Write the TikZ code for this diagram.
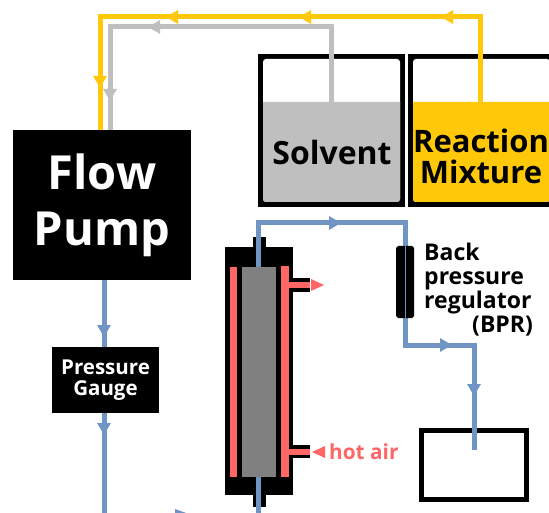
\documentclass[tikz,border=0pt]{standalone}
\usepackage{fontspec}
\setmainfont{Open Sans}
\usetikzlibrary{arrows.meta}
\definecolor{pipeblue}{HTML}{7094C4}
\definecolor{pipeyellow}{HTML}{FFC90A}
\definecolor{pipegray}{HTML}{BFBFBF}
\definecolor{hotred}{HTML}{FF6666}
\tikzset{
  pipe/.style={line width=5pt,line join=miter},
  tip/.style={line width=5pt,-{Triangle[length=12pt,width=13pt]}},
  blackbox/.style={fill=black,text=white,font=\bfseries,align=center,inner sep=0pt},
  tanktext/.style={font=\bfseries\fontsize{31}{31}\selectfont,inner sep=0pt,align=center},
  hottip/.style={fill=hotred}
}
\begin{document}
\begin{tikzpicture}[x=1pt,y=-1pt]
\clip (0,0) rectangle (549,513);
\fill[white] (0,0) rectangle (549,513);
% tanks
\fill (258,54) rectangle (405,207);
\fill[white,rounded corners=3] (263,59) rectangle (400,202);
\fill[pipegray] (263,102) -- (400,102) {[rounded corners=3] -- (400,202) -- (263,202)} -- cycle;
\fill (408,54) rectangle (556,207);
\fill[white,rounded corners=3] (413,59) rectangle (550,202);
\fill[pipeyellow] (413,102) -- (550,102) {[rounded corners=3] -- (550,202) -- (413,202)} -- cycle;
\coordinate (solventtop) at (331,102);
\coordinate (reactiontop) at (480,102);
\node[tanktext,font=\bfseries\fontsize{32}{31}\selectfont] (solvent) at (332,153) {Solvent};
\node[tanktext] (reaction) at (481,156) {Reaction\\Mixture};
% pump and gauge
\node[blackbox,minimum width=178pt,minimum height=150pt,font=\bfseries\fontsize{47}{56}\selectfont] (pump) at (102,205) {Flow\\Pump};
\node[blackbox,minimum width=107pt,minimum height=66pt,font=\bfseries\fontsize{20.5}{20.5}\selectfont] (gauge) at (105.5,380) {Pressure\\Gauge};
% feed lines
\coordinate (yellowin) at (100,130);
\coordinate (grayin) at (110,130);
\draw[pipe,pipeyellow] (reactiontop) -- (480,17) -- (100,17) -- (yellowin);
\draw[pipe,pipegray] (solventtop) -- (331,27) -- (110,27) -- (grayin);
\foreach \xa/\xb in {452/441,310/299,177/166}
  \draw[tip,pipeyellow] (\xa,17) -- (\xb,17);
\draw[tip,pipeyellow] (100,75) -- (100,88);
\draw[tip,pipegray] (160,27) -- (148,27);
\draw[tip,pipegray] (110,90) -- (110,101);
% reactor
\fill (225,247) rectangle (293,495);
\fill (253,237) rectangle (266,507);
\fill (293,278) rectangle (310,292);
\fill (293,445) rectangle (310,458);
\fill[gray] (242,267) rectangle (276,477);
\fill[hotred] (230,267) rectangle (237,477);
\fill[hotred] (281,266) rectangle (289,477);
\fill[hotred] (289,282) rectangle (310,288);
\fill[hotred] (289,449) rectangle (310,455);
\fill[hottip] (311,279) -- (324,285) -- (311,291) -- cycle;
\fill[hottip] (325,446) -- (312,452) -- (325,458) -- cycle;
\node[text=hotred,font=\bfseries\fontsize{20.8}{20.8}\selectfont,anchor=west,inner sep=0pt] (hotair) at (329,452) {hot air};
\coordinate (columntop) at (258.5,267);
\coordinate (columnbottom) at (258.5,477);
% outlet lines
\draw[pipe,pipeblue] (pump.south -| 104,0) -- (104,347);
\draw[pipe,pipeblue] (104,413) -- (104,516);
\draw[pipe,pipeblue,line width=3pt] (104,514.5) -- (200,514.5);
\draw[tip,pipeblue] (104,325) -- (104,337);
\draw[tip,pipeblue] (104,424) -- (104,435);
\fill[pipeblue] (175,509) -- (189,514) -- (175,519) -- cycle;
\draw[pipe,pipeblue] (columnbottom) -- (258.5,513);
\draw[pipe,pipeblue] (columntop) -- (258.5,223) -- (405,223) -- (405,345) -- (474,345) -- (474,450);
\draw[tip,pipeblue] (330,223) -- (341,223);
\draw[tip,pipeblue] (441,345) -- (452,345);
\draw[tip,pipeblue] (474,385) -- (474,396);
% back pressure regulator
\fill (398,246) -- (412,246) -- (414,248) -- (414,316) -- (412,318) -- (398,318) -- (396,316) -- (396,248) -- cycle;
\draw[pipeblue,line width=0.6pt] (405,246) -- (405,318);
\node[font=\bfseries\fontsize{23}{24}\selectfont,align=left,anchor=north west,inner sep=0pt] (bpr) at (424,243) {Back\\pressure\\regulator\\\hspace*{48pt}(BPR)};
% receiver
\node[draw,line width=5pt,minimum width=105pt,minimum height=69pt,inner sep=0pt] (receiver) at (474,465) {};
\draw[pipe,pipeblue] (474,420) -- (474,445);
\end{tikzpicture}
\end{document}
